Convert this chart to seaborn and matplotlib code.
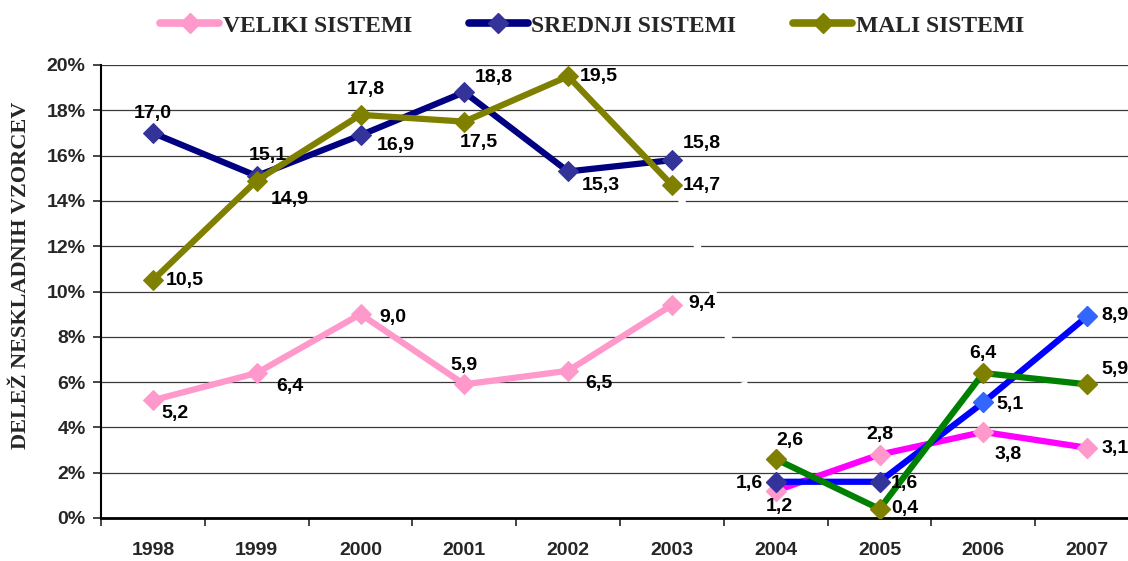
import matplotlib
matplotlib.use("Agg")
import numpy as np
import pandas as pd
import matplotlib.pyplot as plt
import seaborn as sns
from matplotlib import ticker
from matplotlib.lines import Line2D

years = ["1998", "1999", "2000", "2001", "2002", "2003", "2004", "2005", "2006", "2007"]
veliki = [5.2, 6.4, 9.0, 5.9, 6.5, 9.4, 1.2, 2.8, 3.8, 3.1]
srednji = [17.0, 15.1, 16.9, 18.8, 15.3, 15.8, 1.6, 1.6, 5.1, 8.9]
mali = [10.5, 14.9, 17.8, 17.5, 19.5, 14.7, 2.6, 0.4, 6.4, 5.9]
series_names = ["VELIKI SISTEMI", "SREDNJI SISTEMI", "MALI SISTEMI"]

# label offsets in pixels (dx, dy) per point
off_veliki = [(22, -13), (33, -13), (32, -3), (0, 19), (31, -13), (30, 2),
              (4, -16), (0, 20), (25, -23), (28, -1)]
off_srednji = [(0, 19), (11, 20), (35, -10), (30, 15), (33, -14), (30, 17),
               (-26, -2), (25, -2), (27, -2), (28, 1)]
off_mali = [(32, 0), (33, -19), (5, 25), (15, -21), (31, 0), (30, 0),
            (14, 19), (25, 0), (0, 20), (28, 15)]

df = pd.DataFrame({"year": np.arange(len(years)), "veliki": veliki,
                   "srednji": srednji, "mali": mali})
first = df[df["year"] <= 5]
second = df[df["year"] >= 6]

sns.set_style("white")
plt.rcParams["font.family"] = ["Liberation Sans", "DejaVu Sans"]
serif = ["Liberation Serif", "DejaVu Serif"]

fig = plt.figure(figsize=(11.28, 5.61), dpi=100)
ax = fig.add_axes([101 / 1128, 43 / 561, 1038 / 1128, 453 / 561])

for y in range(0, 21, 2):
    ax.axhline(y, color="#3a3a3a", lw=0.9, zorder=0)

# break between 2003 and 2004
ax.plot([5.0, 5.95], [15.3, 2.5], color="white", lw=5, zorder=1, dashes=(6, 2))
ax.plot([4.75, 5.55], [9.2, 2.5], color="white", lw=5, zorder=1, dashes=(4, 3))

ms = 10
lw = 4.5
styles = [
    ("veliki", "#FF99CC", "#FF00FF", ["#FF99CC"] * 4),
    ("srednji", "#000080", "#0000FF", ["#333399", "#333399", "#3366FF", "#3366FF"]),
    ("mali", "#808000", "#008000", ["#808000"] * 4),
]
for col, c1, c2, mcols in styles:
    mk = c1 if col != "srednji" else "#333399"
    sns.lineplot(data=first, x="year", y=col, color=c1, lw=lw, marker="D",
                 markersize=ms, markerfacecolor=mk, markeredgecolor=mk, ax=ax, zorder=3)
    sns.lineplot(data=second, x="year", y=col, color=c2, lw=lw, ax=ax, zorder=3)
    for (x, v), mc in zip(second[["year", col]].values, mcols):
        ax.plot(x, v, marker="D", ms=ms, color=mc, zorder=4)

for vals, offs in [(veliki, off_veliki), (srednji, off_srednji), (mali, off_mali)]:
    for i, (v, o) in enumerate(zip(vals, offs)):
        ax.annotate(f"{v:.1f}".replace(".", ","), (i, v), xytext=(o[0] * 0.72, o[1] * 0.72),
                    textcoords="offset points", ha="center", va="center",
                    fontsize=14, fontweight="bold", color="black", zorder=5,
                    annotation_clip=False)

ax.set_xlim(-0.5, 9.5)
ax.set_ylim(0, 20)
ax.set_xticks(range(len(years)))
ax.set_xticklabels(years)
ax.xaxis.set_minor_locator(ticker.FixedLocator(np.arange(-0.5, 9.6, 1)))
ax.yaxis.set_major_locator(ticker.MultipleLocator(2))
ax.yaxis.set_major_formatter(ticker.FuncFormatter(lambda v, p: f"{v:.0f}%"))
ax.tick_params(axis="x", which="major", length=0, pad=17, labelsize=14)
ax.tick_params(axis="x", which="minor", length=6, width=1.2, direction="out", bottom=True)
ax.tick_params(axis="y", length=6, width=1.2, direction="out", left=True, labelsize=14, pad=5)
for lab in ax.get_xticklabels() + ax.get_yticklabels():
    lab.set_fontweight("bold")
ax.set_xlabel("")
ax.set_ylabel("DELEŽ NESKLADNIH VZORCEV", family=serif, fontweight="bold", fontsize=16)
ax.yaxis.set_label_coords(-0.067, 0.536)
for s in ["top", "right"]:
    ax.spines[s].set_visible(False)
ax.spines["left"].set_color("black")
ax.spines["left"].set_linewidth(1.5)
ax.spines["bottom"].set_color("black")
ax.spines["bottom"].set_linewidth(2)

handles = [Line2D([], [], color=c, lw=lw + 1, marker="D", ms=ms,
                  markerfacecolor=c if n != "srednji" else "#333399",
                  markeredgecolor=c if n != "srednji" else "#333399")
           for n, c, _, _ in styles]
fig.legend(handles, series_names, loc="center", bbox_to_anchor=(0.525, 0.954), ncol=3,
           frameon=False, handlelength=2.5, columnspacing=2.4, handletextpad=0.15,
           prop={"family": serif, "weight": "bold", "size": 17})

fig.savefig("out.png", dpi=100)
